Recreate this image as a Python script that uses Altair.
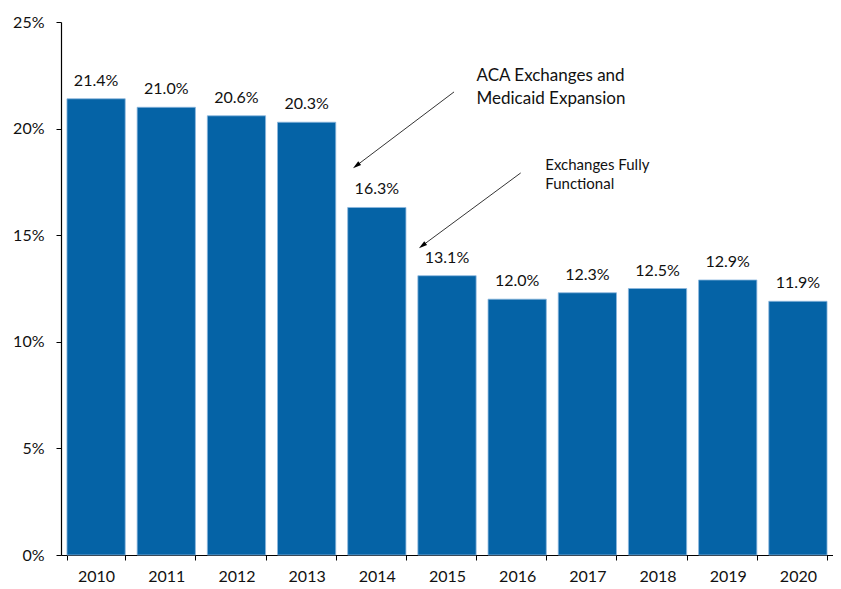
import altair as alt
import pandas as pd

years = ["2010", "2011", "2012", "2013", "2014", "2015", "2016", "2017", "2018", "2019", "2020"]
rates = [21.4, 21.0, 20.6, 20.3, 16.3, 13.1, 12.0, 12.3, 12.5, 12.9, 11.9]

# annotation arrows (x in band-index units 0..11, y in percent)
arrow_x = [5.6, 6.55]
arrow_y = [21.72, 17.92]
arrow_x2 = [4.22, 5.16]
arrow_y2 = [18.29, 14.54]
note_text = [["ACA Exchanges and", "Medicaid Expansion"], ["Exchanges Fully", "Functional"]]
note_x = [5.92, 6.9]
note_y = [22.85, 18.62]

FONT = "Lato"
BLUE = "#0563A6"

df = pd.DataFrame({"year": years, "rate": rates})
df["label"] = [f"{v:.1f}%" for v in rates]

arr = pd.DataFrame({"x": arrow_x, "y": arrow_y, "x2": arrow_x2, "y2": arrow_y2})
notes1 = pd.DataFrame({"x": [note_x[0]], "y": [note_y[0]], "t": [note_text[0]]})
notes2 = pd.DataFrame({"x": [note_x[1]], "y": [note_y[1]], "t": [note_text[1]]})

yscale = alt.Scale(domain=[0, 25], nice=False)

bars = alt.Chart(df).mark_bar(color=BLUE, stroke="#8DB8DE", strokeWidth=0.8).encode(
    x=alt.X("year:N", sort=years, title=None,
            scale=alt.Scale(paddingInner=0.17, paddingOuter=0.085),
            axis=alt.Axis(labelAngle=0, tickBand="extent", domainColor="black", tickColor="black",
                          tickSize=5, labelPadding=8, labelFontSize=16, labelColor="#111",
                          labelFont=FONT, domainWidth=1.2)),
    y=alt.Y("rate:Q", scale=yscale, title=None,
            axis=alt.Axis(values=[0, 5, 10, 15, 20, 25], labelExpr="datum.value + '%'",
                          grid=False, domainColor="black", tickColor="black", tickSize=5,
                          labelPadding=12, labelFontSize=16, labelColor="#111", labelFont=FONT,
                          domainWidth=1.2)),
)

labels = alt.Chart(df).mark_text(dy=-13, baseline="alphabetic", fontSize=16, font=FONT, color="#111").encode(
    x=alt.X("year:N", sort=years),
    y=alt.Y("rate:Q", scale=yscale),
    text="label:N",
)

base = bars + labels

xq = alt.Scale(domain=[0, 11], nice=False, zero=False)

lines = alt.Chart(arr).mark_rule(color="black", strokeWidth=0.8).encode(
    x=alt.X("x:Q", scale=xq, axis=None),
    y=alt.Y("y:Q", scale=yscale),
    x2="x2", y2="y2",
)
heads = alt.Chart(arr).mark_point(shape="M0,-1L0.45,0.6L-0.45,0.6Z", filled=True, color="black",
                                  size=110, angle=233, opacity=1).encode(
    x=alt.X("x2:Q", scale=xq, axis=None),
    y=alt.Y("y2:Q", scale=yscale),
)
t1 = alt.Chart(notes1).mark_text(align="left", baseline="top", fontSize=17, font=FONT,
                                 color="#111", lineHeight=23).encode(
    x=alt.X("x:Q", scale=xq, axis=None),
    y=alt.Y("y:Q", scale=yscale),
    text="t",
)
t2 = alt.Chart(notes2).mark_text(align="left", baseline="top", fontSize=15, font=FONT,
                                 color="#111", lineHeight=19).encode(
    x=alt.X("x:Q", scale=xq, axis=None),
    y=alt.Y("y:Q", scale=yscale),
    text="t",
)

ann = lines + heads + t1 + t2

chart = alt.layer(base, ann).resolve_scale(x="independent").properties(
    width=772, height=533,
    autosize=alt.AutoSizeParams(type="none"),
    padding={"left": 53, "top": 14, "right": 0, "bottom": 30},
).configure_view(stroke=None)

chart.save("out.html", embed_options={"renderer": "svg", "actions": False})
